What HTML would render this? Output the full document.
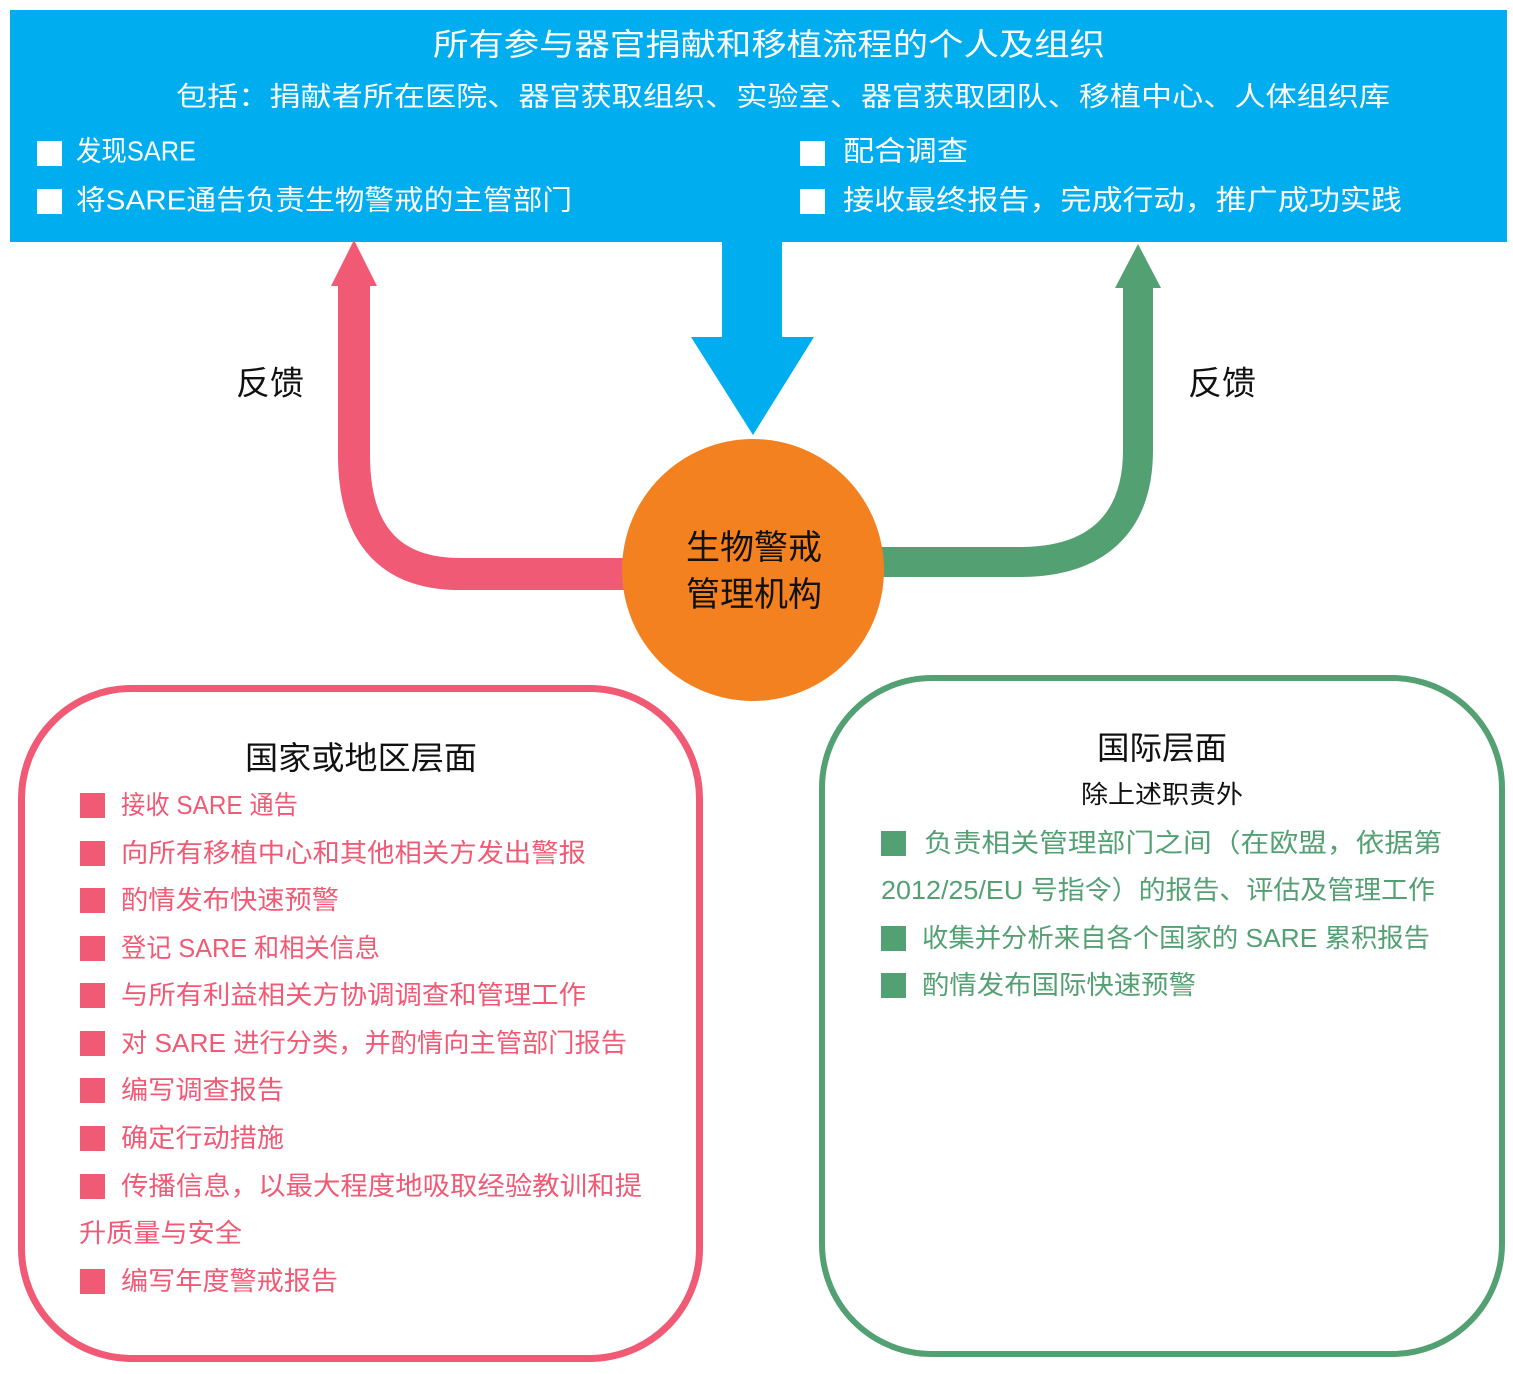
<!DOCTYPE html>
<html><head><meta charset="utf-8"><style>
html,body{margin:0;padding:0;background:#fff;}
svg{display:block;}
text{font-family:"Liberation Sans","Noto Sans CJK SC",sans-serif;dominant-baseline:central;}
</style></head><body>
<svg width="1513" height="1374" viewBox="0 0 1513 1374" xmlns="http://www.w3.org/2000/svg">
<rect x="10" y="10" width="1497" height="232" fill="#00adef"/>
<g fill="#fff">
<text x="433" y="45" font-size="31" textLength="672" lengthAdjust="spacingAndGlyphs">所有参与器官捐献和移植流程的个人及组织</text>
<text x="176" y="97" font-size="27" textLength="1214" lengthAdjust="spacingAndGlyphs">包括：捐献者所在医院、器官获取组织、实验室、器官获取团队、移植中心、人体组织库</text>
<rect x="37" y="141" width="25" height="25"/>
<rect x="37" y="189" width="25" height="25"/>
<rect x="800" y="141" width="25" height="25"/>
<rect x="800" y="189" width="25" height="25"/>
<text x="76" y="151" font-size="28" textLength="120" lengthAdjust="spacingAndGlyphs">发现SARE</text>
<text x="76" y="200" font-size="28" textLength="496" lengthAdjust="spacingAndGlyphs">将SARE通告负责生物警戒的主管部门</text>
<text x="843" y="151" font-size="28" textLength="125" lengthAdjust="spacingAndGlyphs">配合调查</text>
<text x="843" y="200" font-size="28" textLength="559" lengthAdjust="spacingAndGlyphs">接收最终报告，完成行动，推广成功实践</text>
</g>
<!-- blue arrow -->
<polygon points="722,242 782,242 782,337 814,337 753,435 691,337 722,337" fill="#00adef"/>
<!-- pink arrow -->
<path d="M354 280 V455 C354 540 395 574 460 574 H630" fill="none" stroke="#f05a75" stroke-width="32"/>
<polygon points="331,286 377,286 354,240" fill="#f05a75"/>
<!-- green arrow -->
<path d="M878 562 H1020 C1095 562 1138 525 1138 450 V282" fill="none" stroke="#53a073" stroke-width="30"/>
<polygon points="1115,288 1161,288 1138,244" fill="#53a073"/>
<!-- circle -->
<ellipse cx="753" cy="570" rx="131" ry="131" fill="#f48120"/>
<text x="686" y="548" font-size="34" textLength="136" lengthAdjust="spacingAndGlyphs" fill="#111">生物警戒</text>
<text x="686" y="595" font-size="34" textLength="136" lengthAdjust="spacingAndGlyphs" fill="#111">管理机构</text>
<text x="236" y="383" font-size="33" textLength="68" lengthAdjust="spacingAndGlyphs" fill="#111">反馈</text>
<text x="1188" y="383" font-size="33" textLength="68" lengthAdjust="spacingAndGlyphs" fill="#111">反馈</text>
<!-- boxes -->
<rect x="21.5" y="688.5" width="678" height="670" rx="110" fill="none" stroke="#f05a75" stroke-width="7"/>
<rect x="822" y="678" width="680" height="676" rx="110" fill="none" stroke="#53a073" stroke-width="6"/>
<text x="245" y="758" font-size="32" textLength="232" lengthAdjust="spacingAndGlyphs" fill="#111">国家或地区层面</text>
<g fill="#f05a75">
<rect x="80" y="793" width="25" height="25"/><text x="121" y="805" font-size="26" textLength="177" lengthAdjust="spacingAndGlyphs">接收 SARE 通告</text>
<rect x="80" y="841" width="25" height="25"/><text x="121" y="853" font-size="26" textLength="465" lengthAdjust="spacingAndGlyphs">向所有移植中心和其他相关方发出警报</text>
<rect x="80" y="888" width="25" height="25"/><text x="121" y="900" font-size="26" textLength="218" lengthAdjust="spacingAndGlyphs">酌情发布快速预警</text>
<rect x="80" y="936" width="25" height="25"/><text x="121" y="948" font-size="26" textLength="259" lengthAdjust="spacingAndGlyphs">登记 SARE 和相关信息</text>
<rect x="80" y="983" width="25" height="25"/><text x="121" y="995" font-size="26" textLength="465" lengthAdjust="spacingAndGlyphs">与所有利益相关方协调调查和管理工作</text>
<rect x="80" y="1031" width="25" height="25"/><text x="121" y="1043" font-size="26" textLength="506" lengthAdjust="spacingAndGlyphs">对 SARE 进行分类，并酌情向主管部门报告</text>
<rect x="80" y="1078" width="25" height="25"/><text x="121" y="1090" font-size="26" textLength="163" lengthAdjust="spacingAndGlyphs">编写调查报告</text>
<rect x="80" y="1126" width="25" height="25"/><text x="121" y="1138" font-size="26" textLength="163" lengthAdjust="spacingAndGlyphs">确定行动措施</text>
<rect x="80" y="1174" width="25" height="25"/><text x="121" y="1186" font-size="26" textLength="521" lengthAdjust="spacingAndGlyphs">传播信息，以最大程度地吸取经验教训和提</text>
<text x="79" y="1233" font-size="26" textLength="163" lengthAdjust="spacingAndGlyphs">升质量与安全</text>
<rect x="80" y="1269" width="25" height="25"/><text x="121" y="1281" font-size="26" textLength="217" lengthAdjust="spacingAndGlyphs">编写年度警戒报告</text>
</g>
<text x="1097" y="748" font-size="32" textLength="130" lengthAdjust="spacingAndGlyphs" fill="#111">国际层面</text>
<text x="1081" y="795" font-size="25" textLength="162" lengthAdjust="spacingAndGlyphs" fill="#111">除上述职责外</text>
<g fill="#53a073">
<rect x="881" y="831" width="25" height="25"/><text x="924" y="843" font-size="26" textLength="518" lengthAdjust="spacingAndGlyphs">负责相关管理部门之间（在欧盟，依据第</text>
<text x="881" y="890" font-size="26" textLength="554" lengthAdjust="spacingAndGlyphs">2012/25/EU 号指令）的报告、评估及管理工作</text>
<rect x="881" y="926" width="25" height="25"/><text x="922" y="938" font-size="26" textLength="508" lengthAdjust="spacingAndGlyphs">收集并分析来自各个国家的 SARE 累积报告</text>
<rect x="881" y="973" width="25" height="25"/><text x="922" y="985" font-size="26" textLength="274" lengthAdjust="spacingAndGlyphs">酌情发布国际快速预警</text>
</g>
</svg>
</body></html>
